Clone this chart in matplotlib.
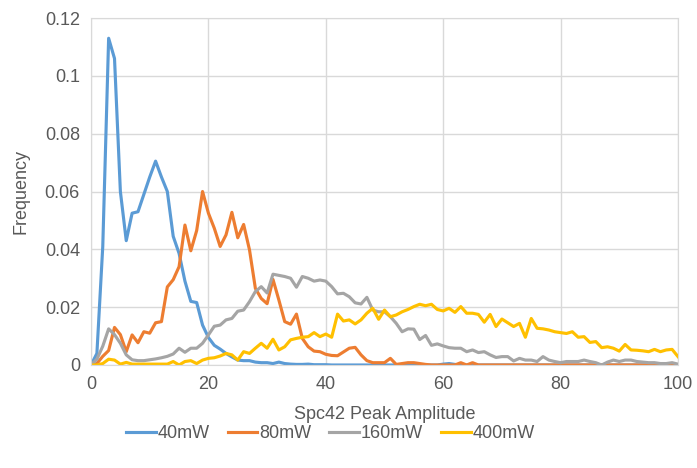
import numpy as np
import matplotlib
matplotlib.use("Agg")
import matplotlib.pyplot as plt

plt.rcParams['font.family'] = ['Liberation Sans', 'DejaVu Sans']

amplitude = np.arange(0, 101)

f40 = [0, 0.004, 0.041, 0.113, 0.106, 0.060, 0.043, 0.0525, 0.053, 0.059,
       0.065, 0.0705, 0.065, 0.060, 0.0445, 0.0386, 0.029, 0.022, 0.0216, 0.0138,
       0.0095, 0.0068, 0.0055, 0.004, 0.0028, 0.0017, 0.0015, 0.0015, 0.001, 0.0008,
       0.0008, 0.0005, 0.001, 0.0005, 0.0003, 0.0002, 0.0002, 0.0003, 0.0001, 0.0001,
       0.0001, 0, 0, 0, 0, 0, 0, 0, 0, 0,
       0, 0, 0, 0, 0, 0, 0, 0, 0, 0,
       0.0003, 0.0005, 0.0002, 0, 0, 0, 0, 0, 0, 0,
       0, 0, 0, 0, 0, 0, 0, 0, 0, 0,
       0, 0, 0, 0, 0, 0, 0, 0, 0, 0,
       0, 0, 0, 0, 0, 0, 0, 0, 0, 0,
       0]

f80 = [0, 0.0005, 0.003, 0.005, 0.013, 0.0105, 0.0046, 0.0104, 0.0077, 0.0115,
       0.011, 0.0146, 0.015, 0.027, 0.0295, 0.034, 0.0484, 0.0395, 0.0465, 0.060,
       0.0525, 0.0473, 0.041, 0.045, 0.0528, 0.044, 0.0486, 0.0398, 0.0265, 0.023,
       0.0212, 0.0296, 0.0225, 0.015, 0.0141, 0.0176, 0.0092, 0.0063, 0.0048, 0.0046,
       0.0037, 0.0033, 0.0032, 0.0045, 0.0058, 0.0061, 0.0035, 0.0015, 0.0008, 0.0008,
       0.0008, 0.0023, 0.0002, 0.0005, 0.0008, 0.0008, 0.0005, 0.0002, 0, 0,
       0, 0, 0, 0.0008, 0, 0.0008, 0, 0, 0, 0,
       0, 0, 0, 0, 0, 0, 0, 0, 0, 0,
       0, 0, 0, 0, 0, 0, 0, 0, 0, 0,
       0, 0, 0, 0, 0, 0, 0, 0, 0, 0,
       0]

f160 = [0, 0.002, 0.0065, 0.0125, 0.0105, 0.0075, 0.0035, 0.0018, 0.0015, 0.0015,
        0.0018, 0.0021, 0.0025, 0.003, 0.0038, 0.0058, 0.0044, 0.0058, 0.0058, 0.0075,
        0.0104, 0.0134, 0.0138, 0.0156, 0.0161, 0.0186, 0.019, 0.0219, 0.0254, 0.0271,
        0.0249, 0.0314, 0.031, 0.0306, 0.030, 0.0269, 0.0306, 0.030, 0.029, 0.0294,
        0.029, 0.0271, 0.0246, 0.0248, 0.0236, 0.0215, 0.0211, 0.0234, 0.019, 0.0184,
        0.0184, 0.0167, 0.0144, 0.0115, 0.0125, 0.0124, 0.0088, 0.0102, 0.0068, 0.0073,
        0.0066, 0.006, 0.0058, 0.0058, 0.0046, 0.0052, 0.0043, 0.0046, 0.0035, 0.0026,
        0.0029, 0.0029, 0.0014, 0.0023, 0.0017, 0.0017, 0.0012, 0.0029, 0.0017, 0.0012,
        0.0008, 0.0012, 0.0012, 0.0012, 0.0017, 0.0012, 0.0008, 0.0, 0.001, 0.0017,
        0.0012, 0.0017, 0.0017, 0.0012, 0.001, 0.0008, 0.0008, 0.0005, 0.0005, 0.0008,
        0.0003]

f400 = [0, 0, 0.0005, 0.002, 0.0017, 0.0003, 0.0009, 0.0003, 0.0003, 0.0003,
        0.0003, 0.0003, 0.0003, 0.0003, 0.0012, 0.0, 0.0012, 0.0015, 0.0005, 0.0017,
        0.0023, 0.0025, 0.0031, 0.004, 0.0035, 0.0017, 0.0046, 0.004, 0.0058, 0.0075,
        0.0058, 0.0089, 0.0052, 0.0063, 0.0087, 0.0092, 0.0096, 0.0098, 0.0112, 0.0098,
        0.0107, 0.0096, 0.0176, 0.0152, 0.0156, 0.0142, 0.0156, 0.0179, 0.0196, 0.0158,
        0.019, 0.0167, 0.0173, 0.0184, 0.0192, 0.0202, 0.021, 0.0205, 0.021, 0.0192,
        0.0187, 0.0196, 0.0182, 0.0202, 0.0179, 0.0179, 0.0175, 0.0148, 0.0175, 0.0133,
        0.0159, 0.0146, 0.0133, 0.0144, 0.0096, 0.0161, 0.0127, 0.0125, 0.0121, 0.0115,
        0.0112, 0.0109, 0.0115, 0.0096, 0.0098, 0.0078, 0.0081, 0.006, 0.0063, 0.0058,
        0.0048, 0.0071, 0.0052, 0.0051, 0.0049, 0.0046, 0.0054, 0.0046, 0.0052, 0.0054,
        0.0029]

labels = ["40mW", "80mW", "160mW", "400mW"]
colors = ["#5B9BD5", "#ED7D31", "#A5A5A5", "#FFC000"]

fig = plt.figure(figsize=(6.97, 4.68), dpi=100)
ax = fig.add_axes([0.1306, 0.2201, 0.8421, 0.7414])

for y, lab, c in zip([f40, f80, f160, f400], labels, colors):
    ax.plot(amplitude, y, color=c, lw=2.25, label=lab, solid_joinstyle='round')

ax.set_xlim(0, 100)
ax.set_ylim(0, 0.12)
ax.set_xticks([0, 20, 40, 60, 80, 100])
ax.set_yticks([0, 0.02, 0.04, 0.06, 0.08, 0.1, 0.12])
ax.set_yticklabels(["0", "0.02", "0.04", "0.06", "0.08", "0.1", "0.12"])
ax.grid(True, color="#D9D9D9", lw=1)
ax.set_axisbelow(True)
for s in ax.spines.values():
    s.set_color("#D9D9D9")
ax.tick_params(length=0, labelsize=13, colors="#595959", pad=8)

ax.set_xlabel("Spc42 Peak Amplitude", fontsize=13, color="#595959", labelpad=9)
ax.set_ylabel("Frequency", fontsize=13, color="#595959", labelpad=11)

leg = fig.legend(loc="center", bbox_to_anchor=(0.474, 0.073), ncol=4, frameon=False,
                 fontsize=13, handlelength=1.65, handletextpad=0.1, columnspacing=1.0)
for t in leg.get_texts():
    t.set_color("#595959")

fig.savefig("out.png", dpi=100)
